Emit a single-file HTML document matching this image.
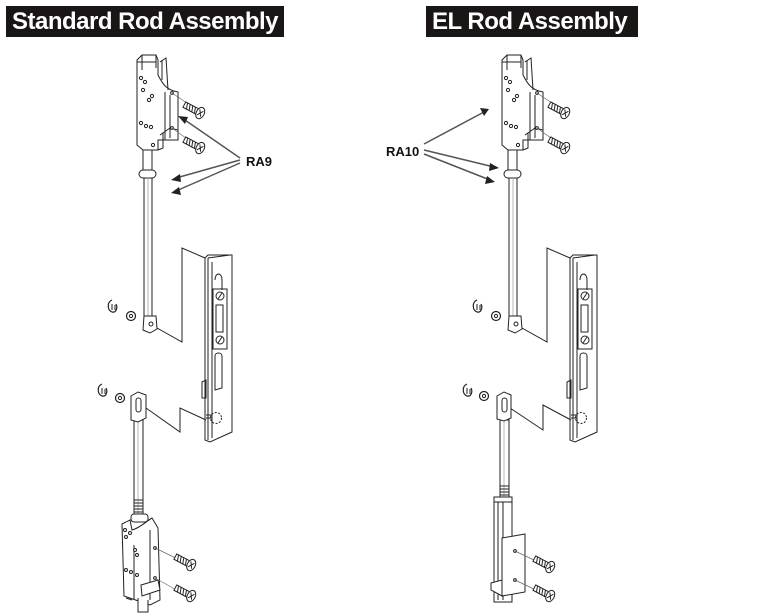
<!DOCTYPE html>
<html><head><meta charset="utf-8"><style>
html,body{margin:0;padding:0;background:#fff;}
.t{position:absolute;top:6px;height:31px;background:#1a1616;color:#fff;font:bold 24px "Liberation Sans",sans-serif;line-height:31px;padding:0 6px;letter-spacing:-0.5px;white-space:nowrap}
</style></head><body>
<div style="position:relative;width:774px;height:616px;overflow:hidden">
<div class="t" style="left:6px;width:266px">Standard Rod Assembly</div>
<div class="t" style="left:426px;width:200px">EL Rod Assembly</div>
<svg width="774" height="616" style="position:absolute;left:0;top:0" fill="none" stroke="#222" stroke-width="1">
<defs>
<g id="screw">
 <g transform="rotate(28)">
  <rect x="-20" y="-3" width="16" height="6" fill="#fff"/>
  <path d="M-18,-3 l2,6 M-15,-3 l2,6 M-12,-3 l2,6 M-9,-3 l2,6"/>
  <ellipse cx="-2" cy="0" rx="4" ry="6" fill="#fff"/>
  <path d="M-4,-3 L0,3 M0,-3 L-4,3"/>
 </g>
</g>
<g id="top">
 <path d="M137,60 L142,55 L156,55 L158,60 L158,75 C163,85 167,90 178,92 L178,140 L158,140 L158,150 L143,150 L137,145 Z" fill="#fff"/>
 <path d="M142,55 L142,70 M156,55 L156,68 M160,62 L166,58 L168,90 M162,60 L162,80"/>
 <path d="M137,62 L156,62"/>
 <path d="M165,92 L165,140 M170,95 L170,138"/>
 <path d="M160,135 L170,128 L178,130 L178,140 M163,133 L163,148 L158,150"/>
 <g fill="#fff">
 <circle cx="141" cy="78" r="1.6"/><circle cx="145" cy="82" r="1.6"/><circle cx="143" cy="90" r="1.6"/>
 <circle cx="152" cy="96" r="1.6"/><circle cx="149" cy="100" r="1.6"/>
 <circle cx="141" cy="123" r="1.6"/><circle cx="146" cy="126" r="1.6"/><circle cx="151" cy="127" r="1.6"/><circle cx="153" cy="145" r="1.6"/>
 <circle cx="172" cy="93" r="1.4"/><circle cx="172" cy="128" r="1.4"/>
 </g>
 <path d="M172,93 L190,105 M172,128 L190,141" stroke="#666" stroke-width=".7"/>
 <rect x="143" y="150" width="9" height="20" fill="#fff"/>
 <rect x="139" y="170" width="17" height="8" rx="4" fill="#fff"/>
 <path d="M144,179 h8 M144,182 h8 M144,185 h8 M144,188 h8 M144,191 h8 M144,194 h8"/>
 <rect x="144" y="178" width="8" height="140" fill="#fff"/>
 <path d="M148,178 L148,318" stroke="#999" stroke-width=".7"/>
 <path d="M144,316 L143,330 L150,333 L157,329 L156,316 Z" fill="#fff"/>
 <circle cx="151" cy="324" r="2"/>
 <path d="M112,300 C107,302 107,310 112,312 C116,313 118,308 116,304" stroke-width="1.2"/>
 <path d="M112,304 L112,310 M115,305 L115,310"/>
 <circle cx="131" cy="316" r="4.5" fill="#fff" stroke-width="1.2"/><circle cx="131" cy="316" r="1.6"/>
 <path d="M157,328 L182,342 L182,248 L205,258"/>
 <use href="#screw" x="202" y="114"/><use href="#screw" x="202" y="149"/>
 <g>
  <path d="M205,258 L208,255 L232,255 L232,432 L210,442 L205,440 Z" fill="#fff"/>
  <path d="M208,258 L208,440 M212,262 L212,438 M208,258 L230,255"/>
  <path d="M215,280 C215,272 222,272 222,280 L222,290" />
  <rect x="213" y="289" width="14" height="60"/>
  <circle cx="220" cy="296" r="4"/><path d="M218,299 L222,293"/>
  <rect x="216" y="305" width="7" height="27"/>
  <circle cx="220" cy="340" r="4"/><path d="M218,343 L222,337"/>
  <path d="M215,356 C215,352 222,352 222,356 L222,388 L215,390 Z"/>
  <path d="M202,382 L206,380 L206,398 L202,398 Z"/>
  <circle cx="216" cy="418" r="5.5" stroke-dasharray="2,1.5"/>
  <path d="M206,415 L212,415 M206,418 L212,418"/>
 </g>
</g>
</defs>
<use href="#top"/>
<use href="#top" x="365"/>

<!-- left lower -->
<path d="M102,384 C97,386 97,394 102,396 C106,397 108,392 106,388" stroke-width="1.2"/>
<path d="M102,388 L102,394 M105,389 L105,394"/>
<circle cx="120" cy="398" r="4.5" fill="#fff" stroke-width="1.2"/><circle cx="120" cy="398" r="1.6"/>
<path d="M146,408 L180,432 L180,408 L206,420"/>
<rect x="134" y="420" width="9" height="95" fill="#fff"/>
<path d="M138,420 L138,515" stroke="#999" stroke-width=".7"/>
<path d="M131,396 L138,392 L146,395 L146,418 L138,422 L131,420 Z" fill="#fff"/>
<rect x="136" y="398" width="5" height="14" rx="2.5"/>
<path d="M134,500 h9 M134,503 h9 M134,506 h9 M134,509 h9 M134,512 h9"/>
<rect x="131" y="514" width="17" height="8" rx="3" fill="#fff"/>
<path d="M122,524 L130,520 L132,530 C140,528 148,520 152,518 L158,528 L160,600 L150,605 L124,596 Z" fill="#fff"/>
<path d="M134,545 L134,600 M150,530 L150,600 M126,598 L132,600"/>
<path d="M138,598 L138,612 L148,612 L148,600" fill="#fff"/>
<path d="M141,585 L158,580 L160,590 L142,596 Z" fill="#fff"/>
<g fill="#fff">
<circle cx="125" cy="530" r="1.5"/><circle cx="130" cy="533" r="1.5"/><circle cx="126" cy="537" r="1.5"/>
<circle cx="135" cy="550" r="1.5"/><circle cx="137" cy="555" r="1.5"/>
<circle cx="126" cy="570" r="1.5"/><circle cx="131" cy="572" r="1.5"/><circle cx="137" cy="575" r="1.5"/>
<circle cx="155" cy="548" r="1.4"/><circle cx="155" cy="578" r="1.4"/>
</g>
<path d="M155,548 L180,560 M155,578 L180,592" stroke="#666" stroke-width=".7"/>
<use href="#screw" x="193" y="566"/><use href="#screw" x="193" y="597"/>

<!-- right lower -->
<path d="M467,384 C462,386 462,394 467,396 C471,397 473,392 471,388" stroke-width="1.2"/>
<path d="M467,388 L467,394 M470,389 L470,394"/>
<circle cx="484" cy="396" r="4.5" fill="#fff" stroke-width="1.2"/><circle cx="484" cy="396" r="1.6"/>
<path d="M510,408 L543,430 L543,405 L571,420"/>
<rect x="500" y="420" width="9" height="80" fill="#fff"/>
<path d="M504,420 L504,500" stroke="#999" stroke-width=".7"/>
<path d="M497,396 L504,392 L511,395 L511,418 L504,421 L497,419 Z" fill="#fff"/>
<rect x="502" y="398" width="5" height="14" rx="2.5"/>
<path d="M500,486 h9 M500,489 h9 M500,492 h9 M500,495 h9"/>
<rect x="494" y="497" width="18" height="105" fill="#fff"/>
<path d="M494,502 h18 M498,502 L498,600 M503,502 L503,600"/>
<path d="M502,538 L525,534 L525,592 L502,596 Z" fill="#fff"/>
<path d="M491,583 L502,580 L502,596 L491,590 Z" fill="#fff"/>
<circle cx="515" cy="551" r="1.4"/><circle cx="515" cy="580" r="1.4"/>
<path d="M515,551 L538,562 M515,580 L538,591" stroke="#666" stroke-width=".7"/>
<use href="#screw" x="552" y="568"/><use href="#screw" x="552" y="597"/>

<!-- labels / arrows -->
<g stroke="#555" stroke-width="1.5">
<path d="M240,158 L182,118"/><path d="M240,160 L176,178"/><path d="M240,163 L176,191"/>
<path d="M424,144 L484,112"/><path d="M424,150 L494,167"/><path d="M424,154 L490,180"/>
</g>
<g fill="#222" stroke="none">
<path d="M178,116 L188,117 L185,124 Z"/>
<path d="M171,180 L180,174 L181,182 Z"/>
<path d="M171,193 L179,187 L181,195 Z"/>
<path d="M489,109 L480,108 L484,116 Z"/>
<path d="M499,168 L490,163 L489,171 Z"/>
<path d="M495,182 L487,176 L485,184 Z"/>
</g>
<text x="246" y="166" fill="#111" stroke="none" font-family="Liberation Sans,sans-serif" font-weight="bold" font-size="13">RA9</text>
<text x="386" y="156" fill="#111" stroke="none" font-family="Liberation Sans,sans-serif" font-weight="bold" font-size="13">RA10</text>
</svg>
</div>
</body></html>
